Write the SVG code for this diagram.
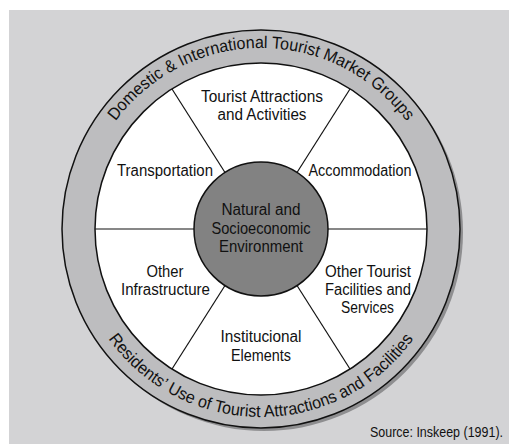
<svg xmlns="http://www.w3.org/2000/svg" xmlns:xlink="http://www.w3.org/1999/xlink" width="509" height="444" viewBox="0 0 509 444">
<style>
  .lbl { font-family: "Liberation Sans", Arial, sans-serif; font-size: 16px; fill: #111; text-anchor: middle; }
  .ring { font-family: "Liberation Sans", Arial, sans-serif; font-size: 17px; fill: #111; }
  .spoke { stroke: #111; stroke-width: 1.2; fill: none; }
  .src { font-family: "Liberation Sans", Arial, sans-serif; font-size: 14px; fill: #111; text-anchor: end; }
</style>
<defs>
  <path id="topArc" d="M 80 229 A 181 181 0 0 1 442 229"/>
  <path id="botArc" d="M 73 229 A 188 188 0 0 0 449 229"/>
</defs>
<rect x="0" y="0" width="509" height="444" fill="#ffffff"/>
<rect x="9" y="10" width="500" height="434" fill="#d3d3d5"/>

<g id="outer-ring">
  <circle cx="264" cy="232" r="199" fill="#8e8e90"/>
  <circle cx="261" cy="229" r="199" fill="#bdbdbf" stroke="#111" stroke-width="1.5"/>
  <text class="ring"><textPath xlink:href="#topArc" href="#topArc" startOffset="50%" text-anchor="middle" textLength="338" lengthAdjust="spacingAndGlyphs">Domestic &amp; International Tourist Market Groups</textPath></text>
  <text class="ring"><textPath xlink:href="#botArc" href="#botArc" startOffset="50%" text-anchor="middle" textLength="356" lengthAdjust="spacingAndGlyphs">Residents’ Use of Tourist Attractions and Facilities</textPath></text>
</g>

<g id="inner-disc">
  <circle cx="261" cy="229" r="166" fill="#ffffff" stroke="#111" stroke-width="1.5"/>
</g>

<g id="connectors">
  <line class="spoke" x1="95" y1="229" x2="194" y2="229"/>
  <line class="spoke" x1="328" y1="229" x2="427" y2="229"/>
  <line class="spoke" x1="172" y1="89" x2="225" y2="172.5"/>
  <line class="spoke" x1="350" y1="89" x2="297" y2="172.5"/>
  <line class="spoke" x1="172" y1="369" x2="225" y2="285.5"/>
  <line class="spoke" x1="350" y1="369" x2="297" y2="285.5"/>
</g>

<g id="center">
  <circle cx="261" cy="229" r="67" fill="#828282" stroke="#111" stroke-width="1.5"/>
  <text class="lbl" x="261" y="215" textLength="79" lengthAdjust="spacingAndGlyphs">Natural and</text>
  <text class="lbl" x="261" y="234" textLength="99" lengthAdjust="spacingAndGlyphs">Socioeconomic</text>
  <text class="lbl" x="261" y="252" textLength="84" lengthAdjust="spacingAndGlyphs">Environment</text>
</g>

<g id="attractions">
  <text class="lbl" x="262" y="102" textLength="122" lengthAdjust="spacingAndGlyphs">Tourist Attractions</text>
  <text class="lbl" x="262" y="120" textLength="89" lengthAdjust="spacingAndGlyphs">and Activities</text>
</g>
<g id="transportation">
  <text class="lbl" x="165" y="176" textLength="96" lengthAdjust="spacingAndGlyphs">Transportation</text>
</g>
<g id="accommodation">
  <text class="lbl" x="360" y="176" textLength="103" lengthAdjust="spacingAndGlyphs">Accommodation</text>
</g>
<g id="infrastructure">
  <text class="lbl" x="165" y="277" textLength="37" lengthAdjust="spacingAndGlyphs">Other</text>
  <text class="lbl" x="165.5" y="295" textLength="89" lengthAdjust="spacingAndGlyphs">Infrastructure</text>
</g>
<g id="facilities">
  <text class="lbl" x="368" y="277" textLength="86" lengthAdjust="spacingAndGlyphs">Other Tourist</text>
  <text class="lbl" x="368" y="295" textLength="86" lengthAdjust="spacingAndGlyphs">Facilities and</text>
  <text class="lbl" x="367.5" y="313" textLength="53" lengthAdjust="spacingAndGlyphs">Services</text>
</g>
<g id="institutional">
  <text class="lbl" x="261" y="342" textLength="81" lengthAdjust="spacingAndGlyphs">Institucional</text>
  <text class="lbl" x="261" y="361" textLength="60" lengthAdjust="spacingAndGlyphs">Elements</text>
</g>

<text class="src" x="503" y="437" textLength="133" lengthAdjust="spacingAndGlyphs">Source: Inskeep (1991).</text>
</svg>
